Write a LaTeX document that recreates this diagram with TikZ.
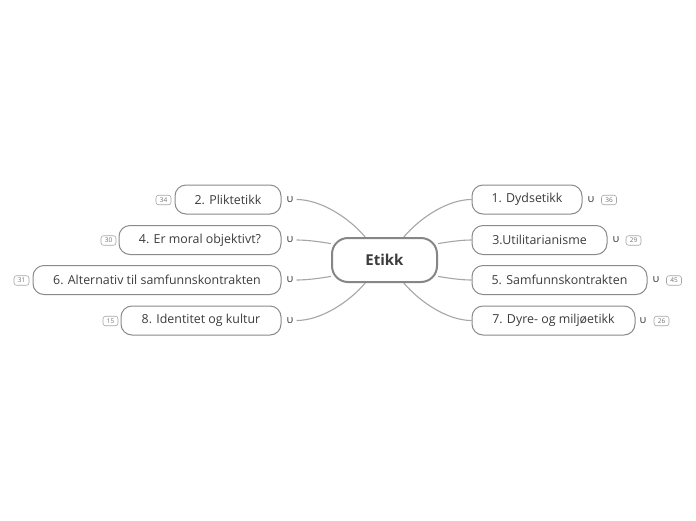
\documentclass[tikz,border=0pt]{standalone}
\usepackage{fontspec}
\setmainfont{Open Sans}
\usetikzlibrary{backgrounds}

\definecolor{linegray}{HTML}{A6A6A6}
\definecolor{boxgray}{HTML}{8A8A8A}
\definecolor{txtgray}{HTML}{3C3C3C}

\tikzset{
  topic/.style={draw=boxgray, line width=1pt, fill=white, rounded corners=11pt,
    minimum height=29pt, inner sep=0pt, text=txtgray,
    font=\fontsize{12.4}{14}\selectfont},
  root/.style={draw=gray!95, line width=2pt, fill=white, rounded corners=16pt,
    minimum width=105pt, minimum height=44pt, text=txtgray,
    font=\fontsize{15}{17}\selectfont\bfseries},
  badge/.style={draw=gray!70, line width=0.6pt, rounded corners=2.5pt, fill=white,
    minimum width=15pt, minimum height=9.5pt, inner sep=0pt, text=gray!90!black,
    font=\fontsize{6.5}{7}\selectfont},
  fold/.style={inner sep=1pt, text=txtgray, font=\fontsize{11}{12}\selectfont},
  branch/.style={draw=linegray, line width=1.1pt}
}

\begin{document}
\begin{tikzpicture}[x=1pt, y=-1pt]

  \useasboundingbox (0,0) rectangle (696,520);

  % ---- central topic ----
  \node[root] (etikk) at (384.5,260) {Etikk};

  % ---- right side ----
  \node[topic, minimum width=110pt] (dyd) at (527,199.5) {1. Dydsetikk};
  \node[topic, minimum width=135pt] (util) at (539.5,240) {3.Utilitarianisme};
  \node[topic, minimum width=175pt] (samf) at (559.5,280) {5. Samfunnskontrakten};
  \node[topic, minimum width=163pt] (dyre) at (553.5,320.5) {7. Dyre- og miljøetikk};

  \node[fold] (fdyd) at (591,199.5) {υ};
  \node[fold] (futil) at (616,240) {υ};
  \node[fold] (fsamf) at (656,280) {υ};
  \node[fold] (fdyre) at (643,320.5) {υ};

  \node[badge] (bdyd) at (609,200) {36};
  \node[badge] (butil) at (633.5,240.5) {29};
  \node[badge] (bsamf) at (674,280.5) {45};
  \node[badge] (bdyre) at (661.5,321) {26};

  % ---- left side ----
  \node[topic, minimum width=106pt] (plikt) at (228,199.5) {2. Pliktetikk};
  \node[topic, minimum width=162pt] (moral) at (200,240) {4. Er moral objektivt?};
  \node[topic, minimum width=248pt] (alt) at (157,280) {6. Alternativ til samfunnskontrakten};
  \node[topic, minimum width=160pt] (ident) at (201,320.5) {8. Identitet og kultur};

  \node[fold] (fplikt) at (290,199.5) {υ};
  \node[fold] (fmoral) at (290,240) {υ};
  \node[fold] (falt) at (290,280) {υ};
  \node[fold] (fident) at (290,320.5) {υ};

  \node[badge] (bplikt) at (163.5,200) {34};
  \node[badge] (bmoral) at (108.5,240.5) {30};
  \node[badge] (balt) at (21.5,280.5) {31};
  \node[badge] (bident) at (110.5,321) {15};

  % ---- branches (behind the boxes) ----
  \begin{scope}[on background layer]
    \fill[white] (0,0) rectangle (696,520);

    \draw[branch] (etikk.50) to[out=50, in=180, looseness=0.8] (dyd.west);
    \draw[branch] (etikk.17) to[out=10, in=180, looseness=0.8] (util.west);
    \draw[branch] (etikk.343) to[out=-10, in=180, looseness=0.8] (samf.west);
    \draw[branch] (etikk.310) to[out=-50, in=180, looseness=0.8] (dyre.west);

    \draw[branch] (etikk.130) to[out=130, in=0, looseness=0.8] ([xshift=2pt]fplikt.east);
    \draw[branch] (etikk.163) to[out=170, in=0, looseness=0.8] ([xshift=2pt]fmoral.east);
    \draw[branch] (etikk.197) to[out=190, in=0, looseness=0.8] ([xshift=2pt]falt.east);
    \draw[branch] (etikk.230) to[out=230, in=0, looseness=0.8] ([xshift=2pt]fident.east);
  \end{scope}

\end{tikzpicture}
\end{document}
